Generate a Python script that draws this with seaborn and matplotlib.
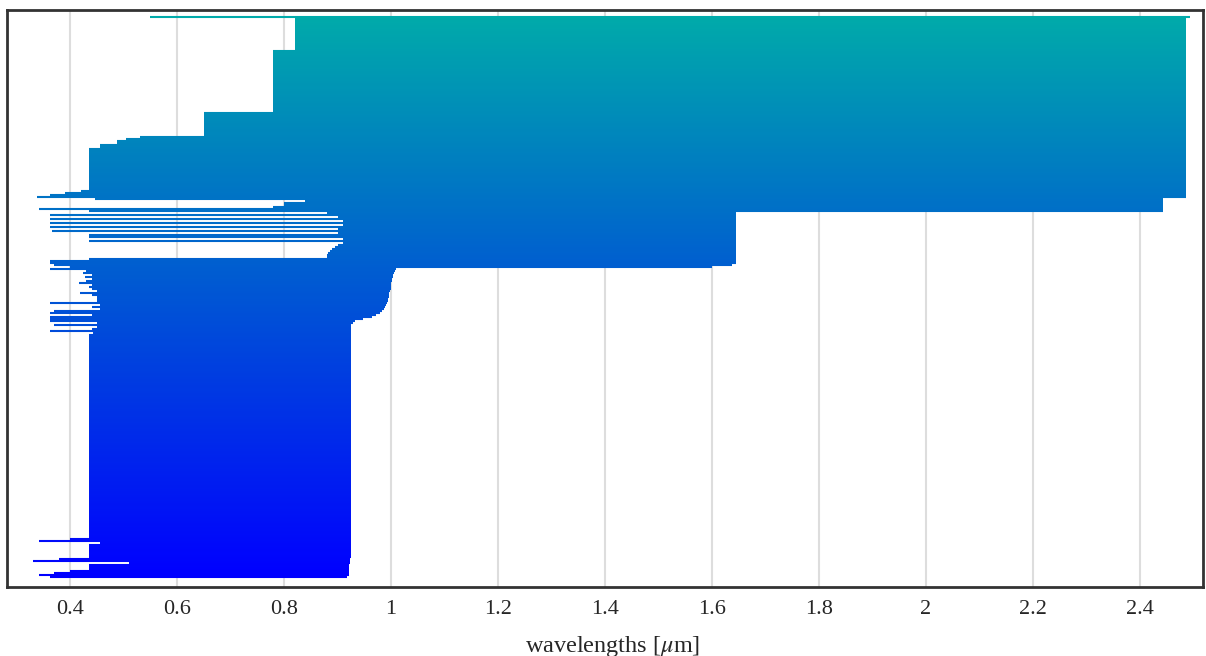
import numpy as np
import pandas as pd
import matplotlib.pyplot as plt
import seaborn as sns

# one horizontal line per row, listed top to bottom as run lengths:
# number of rows, start wavelength, end wavelength (um)
row_count = [1, 16, 31, 12, 1, 1, 2, 2, 21, 1, 1, 1, 1,
             1, 1, 2, 1, 1, 1,
             1, 1, 1, 1, 1, 1, 1, 1, 1, 1, 1, 1, 1, 1, 1,
             1, 1, 1, 1, 1, 1, 1, 1,
             1, 1, 1, 1, 1,
             1, 1, 1, 1, 1, 1, 1, 1, 1, 1, 1, 1, 1, 1, 1, 1, 1,
             1, 1, 1, 1, 1, 1, 1, 1, 1, 1, 1, 1, 1, 1, 1, 1,
             102, 1, 1, 1, 7, 1, 1, 1, 3, 1, 1, 1, 1]
row_start = [0.550, 0.821, 0.779, 0.650, 0.531, 0.505, 0.488, 0.456, 0.436, 0.420, 0.390, 0.362, 0.338,
             0.447, 0.839, 0.800, 0.780, 0.342, 0.436,
             0.880, 0.362, 0.900, 0.362, 0.910, 0.362, 0.910, 0.362, 0.900, 0.366, 0.900, 0.436, 0.436, 0.910, 0.436,
             0.910, 0.900, 0.895, 0.890, 0.885, 0.882, 0.880, 0.880,
             0.436, 0.362, 0.362, 0.370, 0.400,
             0.362, 0.430, 0.424, 0.440, 0.428, 0.440, 0.430, 0.417, 0.440, 0.436, 0.440, 0.450, 0.418, 0.440, 0.450, 0.450, 0.450,
             0.362, 0.455, 0.440, 0.455, 0.370, 0.362, 0.440, 0.362, 0.362, 0.363, 0.450, 0.370, 0.450, 0.440, 0.362, 0.443,
             0.436, 0.400, 0.342, 0.456, 0.436, 0.380, 0.331, 0.510, 0.436, 0.400, 0.370, 0.342, 0.362]
row_end = [2.493, 2.486, 2.486, 2.486, 2.486, 2.486, 2.486, 2.486, 2.486, 2.486, 2.486, 2.486, 2.486,
           2.443, 2.443, 2.443, 2.443, 2.443, 2.443,
           1.645, 1.645, 1.645, 1.645, 1.645, 1.645, 1.645, 1.645, 1.645, 1.645, 1.645, 1.645, 1.645, 1.645, 1.645,
           1.645, 1.645, 1.645, 1.645, 1.645, 1.645, 1.645, 1.645,
           1.645, 1.645, 1.645, 1.637, 1.600,
           1.010, 1.007, 1.005, 1.004, 1.003, 1.002, 1.001, 1.000, 1.000, 0.999, 0.999, 0.998, 0.997, 0.996, 0.996, 0.995, 0.994,
           0.993, 0.991, 0.989, 0.986, 0.983, 0.979, 0.972, 0.964, 0.948, 0.933, 0.928, 0.925, 0.925, 0.925, 0.925, 0.925,
           0.925, 0.925, 0.925, 0.925, 0.925, 0.923, 0.923, 0.923, 0.921, 0.921, 0.921, 0.921, 0.917]

tick_values = [0.4, 0.6, 0.8, 1.0, 1.2, 1.4, 1.6, 1.8, 2.0, 2.2, 2.4]
tick_labels = ["0.4", "0.6", "0.8", "1", "1.2", "1.4", "1.6", "1.8", "2", "2.2", "2.4"]

starts = np.repeat(row_start, row_count)
ends = np.repeat(row_end, row_count)
n = len(starts)
rows = np.arange(n)
df = pd.DataFrame({"row": np.concatenate([rows, rows]),
                   "wl": np.concatenate([starts, ends])})

sns.set_theme(style="white")
plt.rcParams["font.family"] = ["Liberation Serif", "DejaVu Serif"]
plt.rcParams["mathtext.fontset"] = "stix"

fig = plt.figure(figsize=(12.06, 6.56), dpi=100)
ax = fig.add_axes([7 / 1206, 69 / 656, 1196 / 1206, 577 / 656])

cmap = sns.blend_palette(["#00aaaa", "#0000ff"], as_cmap=True)
sns.lineplot(data=df, x="wl", y="row", hue="row", units="row", estimator=None,
             sort=False, palette=cmap, hue_norm=(0, n - 1), legend=False,
             linewidth=1.5, solid_capstyle="butt", ax=ax)

ax.set_xlim(0.282, 2.518)
ax.set_ylim(n - 1 + 5, -3.5)
ax.set_xticks(tick_values)
ax.set_xticklabels(tick_labels)
ax.set_yticks([])
ax.set_ylabel("")
ax.grid(axis="x", color="#dddddd", linewidth=1.5)
ax.set_axisbelow(True)
ax.tick_params(axis="x", length=0, pad=9, labelsize=16)
for s in ax.spines.values():
    s.set_color("#333333")
    s.set_linewidth(2)
ax.set_xlabel(r"wavelengths [$\mu$m]", fontsize=17.5)
ax.xaxis.set_label_coords(0.506, -0.081)

fig.savefig("out.png", dpi=100)
